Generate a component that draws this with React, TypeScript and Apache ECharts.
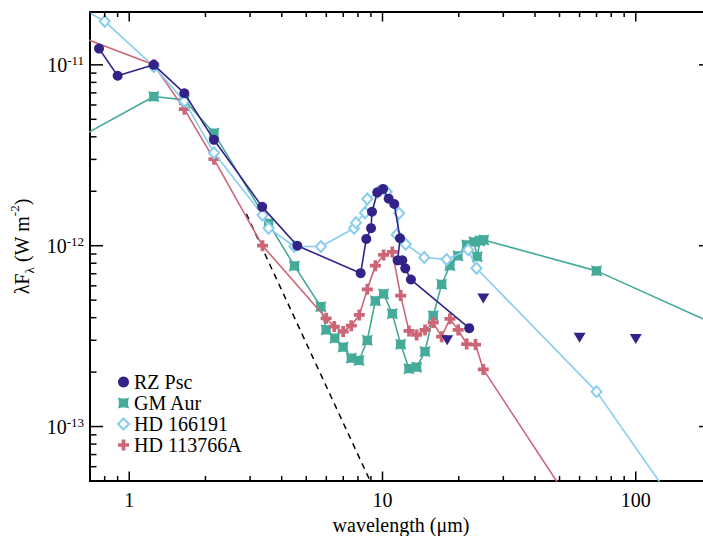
import React, { useEffect, useRef } from 'react';
import * as echarts from 'echarts';

const FONT = 'Liberation Serif';

// RZ Psc (filled circles)
const rzWave = [0.76, 0.9, 1.25, 1.65, 2.16, 3.35, 4.61, 8.2, 8.63, 9.01, 9.09, 9.54, 10.05, 10.58, 11.13, 11.73, 11.48, 11.97, 12.3, 12.95, 22.0];
const rzFlux = [1.23e-11, 8.7e-12, 1.0e-11, 6.97e-12, 3.85e-12, 1.64e-12, 1.0e-12, 7.05e-13, 1.09e-12, 1.25e-12, 1.54e-12, 1.97e-12, 2.06e-12, 1.82e-12, 1.7e-12, 1.1e-12, 8.3e-13, 8.3e-13, 7.5e-13, 6.5e-13, 3.5e-13];
// RZ Psc upper limits (down triangles)
const rzLimWave = [18, 25, 60, 100];
const rzLimFlux = [3.0e-13, 5.1e-13, 3.1e-13, 3.05e-13];

// GM Aur
const gmWave = [0.55, 1.25, 1.65, 2.16, 3.55, 4.49, 5.71, 5.99, 6.48, 6.99, 7.53, 8.08, 8.71, 9.37, 10.1, 10.93, 11.8, 12.72, 13.64, 14.72, 15.86, 17.12, 18.46, 19.86, 21.5, 22.96, 23.66, 24.25, 25.1, 70, 1300];
const gmFlux = [3.55e-12, 6.68e-12, 6.4e-12, 4.19e-12, 1.33e-12, 7.73e-13, 4.6e-13, 3.42e-13, 3.08e-13, 2.75e-13, 2.39e-13, 2.32e-13, 3.0e-13, 4.96e-13, 5.41e-13, 4.21e-13, 2.85e-13, 2.09e-13, 2.13e-13, 2.6e-13, 4.1e-13, 6.12e-13, 7.76e-13, 8.79e-13, 1.01e-12, 1.05e-12, 8.7e-13, 1.064e-12, 1.076e-12, 7.26e-13, 1.15e-13];

// HD 166191
const hdWave = [0.55, 0.8, 1.25, 1.65, 2.16, 3.36, 3.55, 4.49, 5.71, 7.72, 7.86, 8.53, 8.71, 9.6, 10.39, 11.62, 11.38, 12.35, 14.62, 17.92, 21.8, 23.5, 70, 160];
const hdFlux = [2.34e-11, 1.74e-11, 9.8e-12, 6.3e-12, 3.27e-12, 1.48e-12, 1.25e-12, 9.9e-13, 9.9e-13, 1.25e-12, 1.34e-12, 1.52e-12, 1.81e-12, 1.98e-12, 1.99e-12, 1.51e-12, 1.15e-12, 1.02e-12, 8.6e-13, 8.4e-13, 9.5e-13, 7.5e-13, 1.56e-13, 2.97e-14];

// HD 113766A
const hmWave = [0.55, 1.25, 1.65, 2.16, 3.36, 5.99, 6.45, 6.99, 7.53, 8.1, 8.71, 9.37, 10.1, 10.93, 11.8, 12.72, 13.64, 14.72, 15.86, 17.12, 18.46, 19.9, 21.5, 23.3, 25.0, 70];
const hmFlux = [1.55e-11, 1.0e-11, 5.69e-12, 3.01e-12, 1.0e-12, 3.97e-13, 3.57e-13, 3.35e-13, 3.61e-13, 4.14e-13, 5.74e-13, 7.76e-13, 8.89e-13, 9.24e-13, 5.3e-13, 3.38e-13, 3.21e-13, 3.42e-13, 3.76e-13, 3.14e-13, 3.94e-13, 3.42e-13, 2.86e-13, 2.84e-13, 2.07e-13, 2.3e-14];

// Photosphere (dashed)
const photWave = [2.9, 9.5];
const photFlux = [1.5e-12, 4.16e-14];

// Axis ticks
const xMajorTicks = [1, 10, 100];
const xMinorTicks = [0.7, 0.8, 0.9, 2, 3, 4, 5, 6, 7, 8, 9, 20, 30, 40, 50, 60, 70, 80, 90];
const yMajorTicks = [1e-13, 1e-12, 1e-11];
const yMinorTicks = [6e-14, 7e-14, 8e-14, 9e-14, 2e-13, 3e-13, 4e-13, 5e-13, 6e-13, 7e-13, 8e-13, 9e-13, 2e-12, 3e-12, 4e-12, 5e-12, 6e-12, 7e-12, 8e-12, 9e-12];

const C_RZ = '#332288';
const C_GM = '#44AA99';
const C_HD = '#88CCEE';
const C_HM = '#CC6677';

const SYM_GM = 'path://M0,0 L3,0.8 L7,0.8 L10,0 L9.2,3 L9.2,7 L10,10 L7,9.2 L3,9.2 L0,10 L0.8,7 L0.8,3 Z';
const SYM_PLUS = 'path://M3.3,0 H6.7 V3.3 H10 V6.7 H6.7 V10 H3.3 V6.7 H0 V3.3 H3.3 Z';

const zip = (a: number[], b: number[]) => a.map((v, i) => [v, b[i]]);

export default function App() {
  const ref = useRef<HTMLDivElement>(null);
  useEffect(() => {
    if (!ref.current) return;
    const chart = echarts.init(ref.current, null, { renderer: 'svg' });
    const xTickData = [
      ...xMajorTicks.map((v) => [v, 1e-12, 1]),
      ...xMinorTicks.map((v) => [v, 1e-12, 0]),
    ];
    const yTickData = [
      ...yMajorTicks.map((v) => [1, v, 1]),
      ...yMinorTicks.map((v) => [1, v, 0]),
    ];
    const tickStyle = { stroke: '#000', lineWidth: 1.5 };
    const option: any = {
      animation: false,
      backgroundColor: '#fff',
      grid: {
        left: 90,
        top: 12,
        width: 622,
        height: 469,
        outerBoundsMode: 'none',
        containLabel: false,
        show: true,
        borderColor: '#000',
        borderWidth: 2,
        backgroundColor: 'transparent',
      },
      xAxis: {
        type: 'log',
        logBase: 10,
        min: 0.7,
        max: 200,
        axisLine: { show: false },
        axisTick: { show: false },
        splitLine: { show: false },
        minorTick: { show: false },
        axisLabel: {
          margin: 9,
          fontFamily: FONT,
          fontSize: 20,
          color: '#000',
          formatter: (v: number) => {
            const l = Math.log10(v);
            const r = Math.round(l);
            if (Math.abs(l - r) > 1e-6) return '';
            return String(Math.round(Math.pow(10, r)));
          },
        },
        name: 'wavelength (μm)',
        nameLocation: 'middle',
        nameGap: 31,
        nameTextStyle: { fontFamily: FONT, fontSize: 20, color: '#000' },
      },
      yAxis: {
        type: 'log',
        logBase: 10,
        min: 5e-14,
        max: 1.96e-11,
        axisLine: { show: false },
        axisTick: { show: false },
        splitLine: { show: false },
        minorTick: { show: false },
        axisLabel: {
          margin: 6,
          color: '#000',
          formatter: (v: number) => {
            const l = Math.log10(v);
            const r = Math.round(l);
            if (Math.abs(l - r) > 1e-6) return '';
            return '{a|10}{b|' + String(r) + '}';
          },
          rich: {
            a: { fontFamily: FONT, fontSize: 20, color: '#000', lineHeight: 22 },
            b: { fontFamily: FONT, fontSize: 13, color: '#000', lineHeight: 13, verticalAlign: 'top' },
          },
        },
        name: '{a|λF}{b|λ}{a| (W m}{c|-2}{a|)}',
        nameLocation: 'middle',
        nameRotate: 90,
        nameGap: 52,
        nameTextStyle: {
          rich: {
            a: { fontFamily: FONT, fontSize: 20, color: '#000', lineHeight: 28 },
            b: { fontFamily: FONT, fontSize: 13, color: '#000', lineHeight: 14, verticalAlign: 'bottom' },
            c: { fontFamily: FONT, fontSize: 13, color: '#000', lineHeight: 14, verticalAlign: 'top' },
          },
        },
      },
      legend: {
        orient: 'vertical',
        left: 112,
        top: 367,
        itemWidth: 11,
        itemHeight: 11,
        itemGap: 1,
        textStyle: { fontFamily: FONT, fontSize: 20, color: '#000', lineHeight: 20 },
        data: [
          { name: 'RZ Psc', icon: 'circle' },
          { name: 'GM Aur', icon: SYM_GM },
          { name: 'HD 166191', icon: 'diamond' },
          { name: 'HD 113766A', icon: SYM_PLUS },
        ],
      },
      series: [
        {
          name: 'photosphere',
          type: 'line',
          data: zip(photWave, photFlux),
          symbol: 'none',
          lineStyle: { color: '#000', width: 1.5, type: [6, 5] },
          z: 2,
        },
        {
          name: 'GM Aur',
          type: 'line',
          data: zip(gmWave, gmFlux),
          symbol: SYM_GM,
          symbolSize: 11,
          itemStyle: { color: C_GM },
          lineStyle: { color: C_GM, width: 1.6 },
          z: 3,
        },
        {
          name: 'HD 113766A',
          type: 'line',
          data: zip(hmWave, hmFlux),
          symbol: SYM_PLUS,
          symbolSize: 11,
          itemStyle: { color: C_HM },
          lineStyle: { color: C_HM, width: 1.6 },
          z: 4,
        },
        {
          name: 'HD 166191',
          type: 'line',
          data: zip(hdWave, hdFlux),
          symbol: 'diamond',
          symbolSize: [10, 11],
          itemStyle: { color: '#fff', borderColor: C_HD, borderWidth: 2 },
          lineStyle: { color: C_HD, width: 1.6 },
          z: 5,
        },
        {
          name: 'RZ Psc',
          type: 'line',
          data: zip(rzWave, rzFlux),
          symbol: 'circle',
          symbolSize: 10,
          itemStyle: { color: C_RZ },
          lineStyle: { color: C_RZ, width: 1.6 },
          z: 6,
        },
        {
          name: 'RZ Psc limits',
          type: 'scatter',
          data: zip(rzLimWave, rzLimFlux),
          symbol: 'triangle',
          symbolRotate: 180,
          symbolSize: [12, 10],
          itemStyle: { color: C_RZ, opacity: 1 },
          z: 6,
        },
        {
          name: 'xticks',
          type: 'custom',
          silent: true,
          clip: false,
          encode: { x: 0, y: 1 },
          data: xTickData,
          renderItem: (params: any, api: any) => {
            const cs = params.coordSys;
            const x = api.coord([api.value(0), 1e-12])[0];
            const len = api.value(2) ? 9.5 : 5;
            const b = cs.y + cs.height;
            const t = cs.y;
            return {
              type: 'group',
              children: [
                { type: 'line', shape: { x1: x, y1: b, x2: x, y2: b - len }, style: tickStyle },
                { type: 'line', shape: { x1: x, y1: t, x2: x, y2: t + len }, style: tickStyle },
              ],
            };
          },
          z: 10,
        },
        {
          name: 'yticks',
          type: 'custom',
          silent: true,
          clip: false,
          encode: { x: 0, y: 1 },
          data: yTickData,
          renderItem: (params: any, api: any) => {
            const cs = params.coordSys;
            const y = api.coord([1, api.value(1)])[1];
            const len = api.value(2) ? 13 : 6.5;
            const l = cs.x;
            const r = cs.x + cs.width;
            return {
              type: 'group',
              children: [
                { type: 'line', shape: { x1: l, y1: y, x2: l + len, y2: y }, style: tickStyle },
                { type: 'line', shape: { x1: r, y1: y, x2: r - len, y2: y }, style: tickStyle },
              ],
            };
          },
          z: 10,
        },
      ],
    };
    chart.setOption(option);
    return () => chart.dispose();
  }, []);
  return (
    <div
      ref={ref}
      style={{ position: 'absolute', left: 0, top: 0, width: 703, height: 536, background: '#fff' }}
    />
  );
}
